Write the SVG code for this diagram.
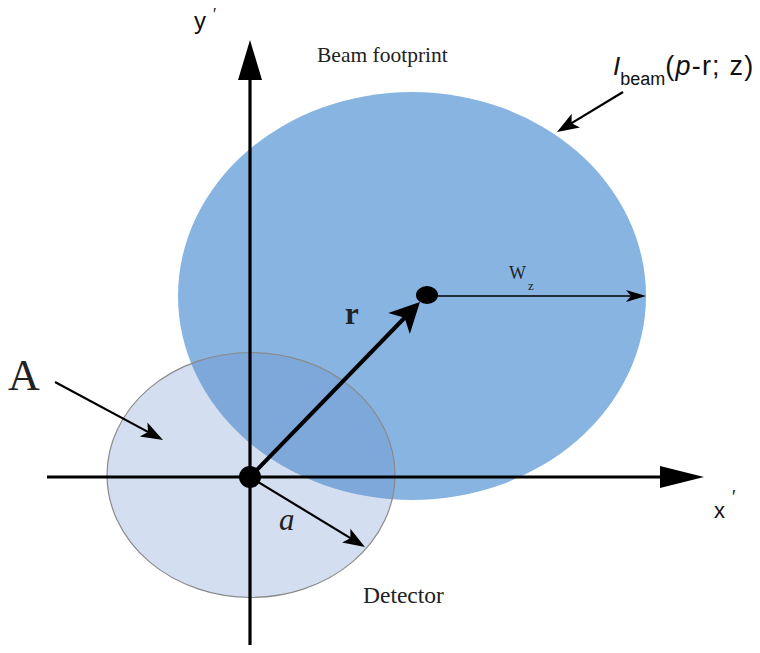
<svg xmlns="http://www.w3.org/2000/svg" width="760" height="653" viewBox="0 0 760 653">
<style>
.ax{stroke:#000;stroke-width:3.2;fill:none}
.serif{font-family:"Liberation Serif","Times New Roman",serif;fill:#222}
.sans{font-family:"Liberation Sans",Arial,sans-serif;fill:#111}
</style>
<defs>
<marker id="mR" markerUnits="userSpaceOnUse" markerWidth="32" markerHeight="32" refX="16" refY="15" orient="auto" overflow="visible"><path d="M0,0 L30,15 L0,30 L8,15 z" fill="#000"/></marker>
<marker id="mW" markerUnits="userSpaceOnUse" markerWidth="22" markerHeight="14" refX="15" refY="6" orient="auto" overflow="visible"><path d="M0,0 L20,6 L0,12 L5,6 z" fill="#000"/></marker>
<marker id="mA" markerUnits="userSpaceOnUse" markerWidth="24" markerHeight="18" refX="17" refY="8" orient="auto" overflow="visible"><path d="M0,0 L22,8 L0,16 L5,8 z" fill="#000"/></marker>
</defs>
<rect width="760" height="653" fill="#fff"/>
<g id="beam"><ellipse cx="412" cy="296" rx="234" ry="204" fill="#88B4E1"/></g>
<g id="detector"><ellipse cx="251" cy="475" rx="144" ry="122.5" fill="rgb(103,143,204)" fill-opacity="0.29" stroke="#8a8a8a" stroke-width="1.2"/></g>
<g id="axes">
<line class="ax" x1="250" y1="645" x2="250" y2="78"/>
<polygon points="250,40 238,80 262,80" fill="#000"/>
<line class="ax" x1="47" y1="477" x2="662" y2="477"/>
<polygon points="704,477 660,466 660,488" fill="#000"/>
</g>
<g id="connectors" fill="none" stroke="#000">
<line x1="250" y1="477" x2="410.2" y2="312" stroke-width="4" marker-end="url(#mR)"/>
<line x1="437" y1="296" x2="641" y2="296" stroke-width="1.5" marker-end="url(#mW)"/>
<line x1="55" y1="382" x2="158.6" y2="437.6" stroke-width="2.2" marker-end="url(#mA)"/>
<line x1="250" y1="477" x2="360.7" y2="544.4" stroke-width="2.2" marker-end="url(#mA)"/>
<line x1="623" y1="92" x2="561.3" y2="129.4" stroke-width="2.2" marker-end="url(#mA)"/>
</g>
<g id="points">
<ellipse cx="427" cy="295" rx="11" ry="9" fill="#000"/>
<circle cx="250" cy="477" r="11" fill="#000"/>
</g>
<g id="labels">
<text class="sans" x="194" y="29" font-size="24">y<tspan x="213" y="20" font-size="16">′</tspan></text>
<text class="sans" x="714" y="518" font-size="22">x<tspan x="732" y="503" font-size="18">′</tspan></text>
<text class="serif" x="317" y="62" font-size="21.5">Beam footprint</text>
<text class="sans" x="613" y="75" font-size="26"><tspan font-style="italic">I</tspan><tspan font-size="18" dy="10">beam</tspan><tspan dy="-10" font-size="27" letter-spacing="1.2">(<tspan font-style="italic">p</tspan>-r; z)</tspan></text>
<text class="serif" x="345" y="324" font-size="31" font-weight="bold">r</text>
<text class="serif" x="509" y="279" font-size="18">W<tspan x="528" y="290" font-size="13">z</tspan></text>
<text class="serif" x="8" y="390" font-size="44">A</text>
<text class="serif" x="279" y="530" font-size="31" font-style="italic">a</text>
<text class="serif" x="363" y="603" font-size="23.5">Detector</text>
</g>
</svg>
